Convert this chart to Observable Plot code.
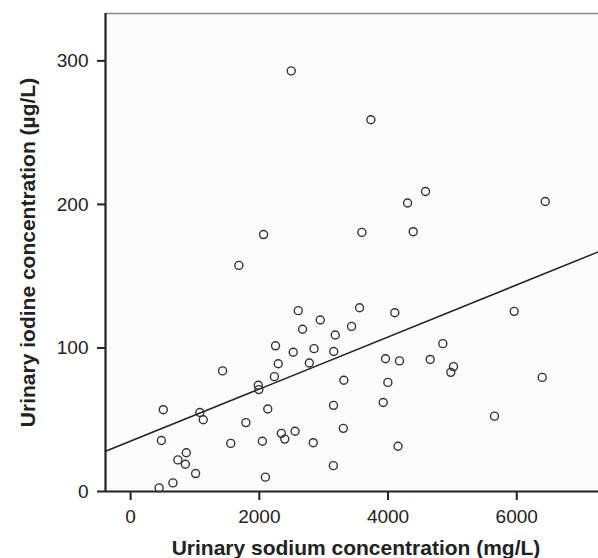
<!DOCTYPE html>
<html>
<head>
<meta charset="utf-8">
<script src="https://cdn.jsdelivr.net/npm/d3@7"></script>
<script src="https://cdn.jsdelivr.net/npm/@observablehq/plot@0.6"></script>
<style>
  html, body { margin: 0; padding: 0; background: #fff; }
</style>
</head>
<body>
<div id="chart"></div>
<script>
const sodium = [2496,3733,4582,4303,6442,2066,3593,4391,1682,2605,2947,3557,2672,3433,3180,4105,5960,2252,2527,2850,3156,2294,2777,2234,3313,3961,4178,3997,4655,4851,5017,4975,6395,1429,1984,1993,508,1076,1129,2131,1791,478,1556,2047,2342,2395,2555,865,735,851,1010,2094,657,443,3153,3925,3305,2838,4155,3150,5654];
const iodine = [293,259,209,201,202,179,180.5,181,157.5,126,119.5,128,113,115,109,124.5,125.5,101.5,97,99.5,97.5,89,89.5,80,77.5,92.5,91,76,92,103,87,83,79.5,84,74,71,57,55,50,57.5,48,35.5,33.5,35,40.5,36.5,42,27,22,19,12.5,10,6,2.5,60,62,44,34,31.5,18,52.5];
const fitX = [-390, 7270];
const fitY = [28, 167];
const xTicks = [0, 2000, 4000, 6000];
const yTicks = [0, 100, 200, 300];
const xTitle = "Urinary sodium concentration (mg/L)";
const yTitle = "Urinary iodine concentration (µg/L)";

const points = sodium.map((s, i) => ({s, v: iodine[i]}));
const fit = fitX.map((x, i) => ({x, y: fitY[i]}));
const xDomain = [-390, 7270];
const yDomain = [0, 333];
const ink = "#222";

const chart = Plot.plot({
  width: 598,
  height: 558,
  marginLeft: 105,
  marginTop: 13,
  marginRight: 0,
  marginBottom: 67,
  style: {fontFamily: "'Liberation Sans', Arial, sans-serif", fontSize: "19px", color: ink, background: "#fff"},
  x: {domain: xDomain},
  y: {domain: yDomain},
  marks: [
    Plot.frame({fill: "#fcfcfc", stroke: null}),
    Plot.axisX({ticks: xTicks, tickFormat: d3.format("d"), tickSize: 9, tickPadding: 9, strokeWidth: 2, stroke: ink, fill: ink, fontSize: 19, label: null}),
    Plot.axisY({ticks: yTicks, tickFormat: d3.format("d"), tickSize: 8, tickPadding: 9, strokeWidth: 2, stroke: ink, fill: ink, fontSize: 19, label: null}),
    Plot.ruleY([yDomain[1]], {stroke: "#888", strokeWidth: 1.5}),
    Plot.ruleY([0], {stroke: ink, strokeWidth: 2.2}),
    Plot.ruleX([xDomain[0]], {stroke: ink, strokeWidth: 2.2}),
    Plot.line(fit, {x: "x", y: "y", stroke: ink, strokeWidth: 1.5}),
    Plot.dot(points, {x: "s", y: "v", r: 4, stroke: "#333", strokeWidth: 1.4, fill: "none"}),
    Plot.text([xTitle], {frameAnchor: "bottom", textAnchor: "middle", lineAnchor: "bottom", dy: 63, dx: 4, fontSize: 21, fontWeight: "bold", fill: ink}),
    Plot.text([yTitle], {frameAnchor: "left", textAnchor: "middle", lineAnchor: "bottom", rotate: -90, dx: -71, fontSize: 21, fontWeight: "bold", fill: ink})
  ]
});
document.getElementById("chart").appendChild(chart);
</script>
</body>
</html>
